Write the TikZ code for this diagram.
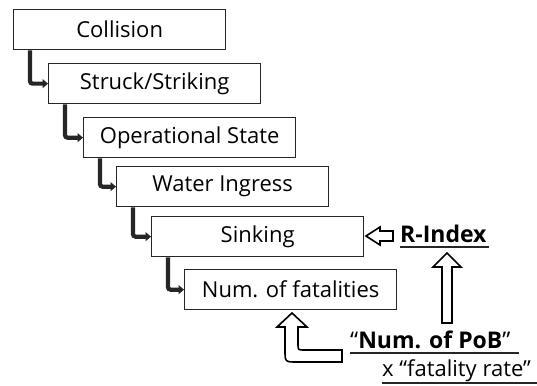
\documentclass[tikz,border=0pt]{standalone}
\usepackage{fontspec}
\setmainfont{Open Sans}
\usetikzlibrary{arrows.meta}
\begin{document}
\begin{tikzpicture}[x=1pt,y=-1pt,
  stage/.style={draw=black!85,line width=1.3pt,minimum width=212pt,minimum height=40pt,
    inner sep=0pt,anchor=north west,font=\fontsize{22}{26}\selectfont},
  conn/.style={draw=black!85,line width=4.2pt,rounded corners=2.5pt,
    -{Triangle[length=5.5pt,width=9pt]}},
  hollow/.style={draw=black,line width=1.6pt,fill=white,line join=miter},
  lbl/.style={anchor=base west,inner sep=0pt,font=\fontsize{23}{27}\selectfont},
  uline/.style={draw=black!85,line width=1.5pt}]
\useasboundingbox (0,0) rectangle (537,385);

% cascade of event boxes
\node[stage] (b1) at (13,9)   {Collision};
\node[stage] (b2) at (48,63)  {Struck/Striking};
\node[stage] (b3) at (83,117) {Operational State};
\node[stage] (b4) at (116,166){Water Ingress};
\node[stage] (b5) at (151,216){Sinking};
\node[stage] (b6) at (184,269){Num. of fatalities};

% elbow connectors between successive boxes
\foreach \a/\b in {b1/b2,b2/b3,b3/b4,b4/b5,b5/b6}
  \draw[conn] ([xshift=17pt]\a.south west) |- (\b.west);

% labels on the right
\node[lbl] (ri) at (400,242) {\textbf{R-Index}};
\node[lbl] (pob) at (350,348) {“\textbf{Num. of PoB}”};
\node[lbl,font=\fontsize{22}{26}\selectfont] (fr) at (382,376) {x “fatality rate”};

\draw[uline] ([yshift=-5pt]ri.base west) -- ([yshift=-5pt,xshift=2pt]ri.base east);
\draw[uline] ([yshift=-5pt]pob.base west) -- ([yshift=-5pt,xshift=8pt]pob.base east);
\draw[uline] ([yshift=-7pt]fr.base west) -- (537,383);

% hollow block arrows
\draw[hollow] (366,236) -- (380,227) -- (380,231) -- (393,231) -- (393,241)
  -- (380,241) -- (380,245) -- cycle;
\draw[hollow] (447,253) -- (461,267) -- (452,267) -- (452,323) -- (442,323)
  -- (442,267) -- (433,267) -- cycle;
\draw[hollow] (292,313) -- (307,327) -- (298,327) -- (298,344)
  .. controls (298,350) .. (304,350) -- (342,350) -- (342,362) -- (297,362)
  .. controls (285,362) .. (285,350) -- (285,327) -- (277,327) -- cycle;
\end{tikzpicture}
\end{document}
